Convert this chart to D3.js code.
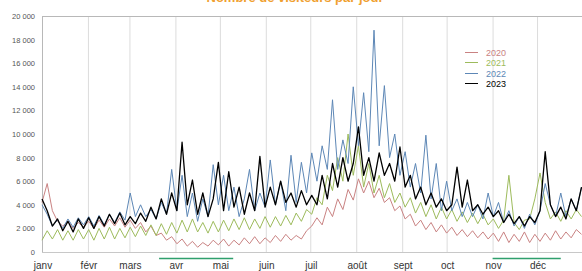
<!DOCTYPE html>
<html>
<head>
<meta charset="utf-8">
<script src="https://cdn.jsdelivr.net/npm/d3@7"></script>
<style>
  body { margin: 0; background: #fff; }
  svg { display: block; font-family: "Liberation Sans", Arial, sans-serif; }
</style>
</head>
<body>
<div id="chart"></div>
<script>
// one point every 3.5 days (two per week), from 1 Jan
var step = 3.5;

var years = ["2020", "2021", "2022", "2023"];
var colors = ["#c98282", "#9dbb5c", "#5d87b6", "#000000"];

var v2020 = [
  4200, 5800, 3500, 2600, 2200, 2600, 2000, 2500, 2100,
  2600, 2000, 2700, 2100, 2800, 2200, 2900, 2100,
  2700, 2000, 2500, 1700, 2200, 1400, 1600, 1000, 1300,
  700, 1100, 500, 900, 400, 800, 500, 1000, 600,
  1100, 500, 1000, 600, 1200, 700, 1300, 700, 1200,
  800, 1400, 900, 1500, 1000, 1400, 1100, 1800,
  2200, 2900, 2300, 3800, 3000, 4500, 3600, 5300, 4400,
  6200, 5000, 6000, 4600, 5400, 4200, 4600, 3500, 3900,
  2800, 3200, 2200, 2700, 1900, 2500, 1700, 2300,
  1600, 2100, 1400, 1900, 1300, 1800, 1200, 1700, 1100,
  1600, 900, 1700, 800, 1500, 900, 1700, 800, 1500,
  900, 1600, 1000, 1800, 1100, 1700, 1200, 1900, 1500
];
var v2021 = [
  1000, 1800, 1100, 1900, 1000, 1800, 1000, 1900, 1100,
  1900, 1000, 2000, 1100, 2100, 1100, 2000, 1200,
  2100, 1300, 2200, 1400, 2300, 1400, 2400, 1500, 2500,
  1600, 2700, 1700, 2800, 1700, 2500, 1600, 2600, 1700,
  2700, 1800, 2800, 1900, 2900, 1900, 2800, 2000, 3000,
  2100, 3000, 2200, 3100, 2300, 3300, 2600, 3600,
  3200, 4600, 4000, 6500, 5200, 8000, 6000, 10000, 6500,
  9000, 5500, 7500, 5000, 6500, 4600, 5800, 4200, 5000,
  3800, 4600, 3300, 4200, 3000, 4000, 2800, 3800,
  2800, 3600, 2600, 3400, 2500, 3300, 2400, 3200, 2300,
  2800, 2000, 2700, 6500, 2500, 1900, 2700, 2800, 4500,
  6700, 4200, 2800, 3400, 2600, 3500, 2800, 3600, 3000
];
var v2022 = [
  4000, 3200, 2200, 2700, 2000, 2800, 2100, 2900, 2300,
  3000, 2200, 3100, 2300, 3200, 2500, 3400, 2700,
  5000, 3000, 4000, 3000, 3600, 2800, 4200, 3200, 7000,
  3500, 6500, 3000, 5000, 2600, 4500, 3000, 7400, 4000,
  6500, 3500, 5500, 3000, 4500, 7000, 3500, 5000, 3800,
  7800, 4000, 6000, 3500, 8200, 4200, 7600, 5000,
  8400, 6000, 9000, 7000, 12900, 7000, 9500, 7500, 14000,
  9000, 13500, 8500, 18800, 9000, 14100, 8000, 10000, 6500,
  8500, 5500, 7500, 5000, 9900, 4500, 7500, 3500,
  6000, 3500, 4500, 3000, 4200, 3000, 4000, 2800, 5000,
  3000, 4200, 2500, 3500, 2200, 3000, 2000, 3200, 2300,
  3500, 5800, 4000, 3000, 5000, 3000, 4500, 3500, 5500
];
var v2023 = [
  4500, 3500, 2200, 2800, 1800, 2600, 1700, 2800, 2000,
  2900, 2000, 3000, 2200, 3200, 2400, 3300, 2300,
  3000, 2400, 3300, 2600, 3800, 2800, 4500, 3200, 5000,
  3500, 9300, 4000, 6100, 3200, 5000, 3000, 4500, 7600,
  3500, 6800, 3800, 5500, 3200, 5000, 3500, 8100, 3800,
  5500, 4000, 6000, 4200, 5000, 3800, 5200, 4000,
  4800, 4000, 6500, 4500, 7500, 5500, 8000, 6000, 7500,
  10600, 6500, 8000, 6000, 8400, 6500, 7500, 6000, 8900,
  5500, 6500, 4500, 5500, 4000, 5000, 3800, 4500,
  3500, 4000, 7200, 3800, 6100, 3500, 4000, 3200, 3800,
  3000, 3500, 2500, 3200, 2400, 3000, 2200, 3000, 2500,
  3500, 8500, 4000, 3000, 3800, 2800, 4500, 3500, 5500
];
var series = [v2020, v2021, v2022, v2023];

var monthStarts = [0, 31, 59, 90, 120, 151, 181, 212, 243, 273, 304, 334];
var monthLabels = ["janv", "févr", "mars", "avr", "mai", "juin", "juil", "août", "sept", "oct", "nov", "déc"];
var yTicks = [0, 2000, 4000, 6000, 8000, 10000, 12000, 14000, 16000, 18000, 20000];
// highlighted periods (day of year)
var periods = [[79, 129], [304, 350]];

var title = "Nombre de visiteurs par jour";

var width = 582, height = 271;
var svg = d3.select("#chart").append("svg")
  .attr("width", width)
  .attr("height", height);

var x = d3.scaleLinear().domain([0, 365]).range([42, 583]);
var y = d3.scaleLinear().domain([0, 20000]).range([252, 16]);

// title, cut by the top edge like in the original
svg.append("text")
  .attr("x", 295)
  .attr("y", 1.5)
  .attr("text-anchor", "middle")
  .style("font-size", "13px")
  .style("font-weight", "bold")
  .style("fill", "#f0a030")
  .text(title);

// month grid lines
svg.append("g").selectAll("line")
  .data(monthStarts.slice(1))
  .enter().append("line")
  .attr("x1", d => x(d) + 0.5).attr("x2", d => x(d) + 0.5)
  .attr("y1", y(20000)).attr("y2", y(0))
  .style("stroke", "#dcdcdc")
  .style("stroke-width", 1);

// frame: top, left, bottom
svg.append("line")
  .attr("x1", x(0)).attr("x2", width)
  .attr("y1", y(20000) + 0.5).attr("y2", y(20000) + 0.5)
  .style("stroke", "#b8b8b8");
svg.append("line")
  .attr("x1", x(0) + 0.5).attr("x2", x(0) + 0.5)
  .attr("y1", y(20000)).attr("y2", y(0))
  .style("stroke", "#b8b8b8");
svg.append("line")
  .attr("x1", x(0)).attr("x2", width)
  .attr("y1", y(0) + 0.5).attr("y2", y(0) + 0.5)
  .style("stroke", "#c8c8c8");

// y labels
var fmt = d => d3.format(",")(d).replace(",", " ");
svg.append("g").selectAll("text")
  .data(yTicks)
  .enter().append("text")
  .attr("x", 35)
  .attr("y", d => y(d) + 3)
  .attr("text-anchor", "end")
  .style("font-size", "7.5px")
  .style("fill", "#555")
  .text(fmt);

// month labels
svg.append("g").selectAll("text")
  .data(monthStarts)
  .enter().append("text")
  .attr("x", (d, i) => x(d) + 1)
  .attr("y", 269)
  .attr("text-anchor", "middle")
  .style("font-size", "10px")
  .style("fill", "#333")
  .text((d, i) => monthLabels[i]);

// highlighted periods under the axis
svg.append("g").selectAll("line")
  .data(periods)
  .enter().append("line")
  .attr("x1", d => x(d[0])).attr("x2", d => x(d[1]))
  .attr("y1", 258.5).attr("y2", 258.5)
  .style("stroke", "#2f9f6c")
  .style("stroke-width", 1.5);

// lines
var line = d3.line()
  .x((d, i) => x(i * step))
  .y(d => y(d));

svg.append("g").selectAll("path")
  .data(series)
  .enter().append("path")
  .attr("d", line)
  .style("fill", "none")
  .style("stroke", (d, i) => colors[i])
  .style("stroke-width", (d, i) => i == 3 ? 1.3 : 1)
  .style("stroke-linejoin", "round");

// legend
var legend = svg.append("g");
years.forEach(function(yr, i) {
  var ly = [52, 62, 73, 83][i];
  legend.append("line")
    .attr("x1", 465).attr("x2", 478)
    .attr("y1", ly + 0.5).attr("y2", ly + 0.5)
    .style("stroke", colors[i])
    .style("stroke-width", 1);
  legend.append("text")
    .attr("x", 486)
    .attr("y", ly + 3.5)
    .style("font-size", "9px")
    .style("fill", colors[i])
    .text(yr);
});
</script>
</body>
</html>
